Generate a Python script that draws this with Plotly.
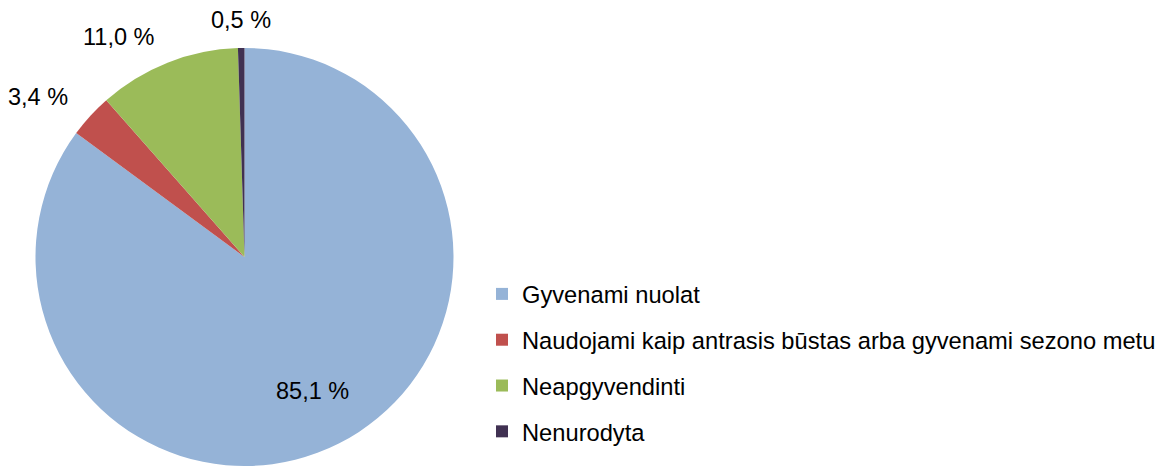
import math
import plotly.graph_objects as go

labels = ["Gyvenami nuolat",
          "Naudojami kaip antrasis būstas arba gyvenami sezono metu",
          "Neapgyvendinti",
          "Nenurodyta"]
values = [85.1, 3.4, 11.0, 0.5]
colors = ["#95B3D7", "#C0504D", "#9BBB59", "#403152"]
texts = [f"{v:.1f} %".replace(".", ",") for v in values]

W, H = 1163, 466
FONT = "Liberation Sans, Arial, sans-serif"

# pie geometry (pixels)
cx, cy, R = 244.5, 257, 209
dom_x = [(cx - R) / W, (cx + R) / W]
dom_y = [max(0.0, 1 - (cy + R) / H), 1 - (cy - R) / H]

fig = go.Figure()
fig.add_trace(go.Pie(
    values=values, labels=labels, sort=False, direction="clockwise", rotation=0,
    marker=dict(colors=colors, line=dict(width=0)),
    textinfo="none",
    showlegend=False, domain=dict(x=dom_x, y=dom_y),
))

# data labels placed along each slice's mid-angle
total = sum(values)
cum = 0.0
annotations = []
for i, v in enumerate(values):
    mid = (cum + v / 2) / total
    cum += v
    th = 2 * math.pi * mid
    s, c = math.sin(th), math.cos(th)
    if i == 0:
        r = 0.72 * R
        xa = "center"
    else:
        r = 237
        xa = "center" if abs(s) < 0.2 else ("right" if s < 0 else "left")
    px = cx + s * r
    py = cy - c * r
    annotations.append(dict(
        x=px / W, y=1 - py / H, xref="paper", yref="paper",
        text=texts[i], showarrow=False, xanchor=xa, yanchor="middle",
        font=dict(size=23.5, color="black", family=FONT),
    ))

# legend entries
for lab, col in zip(labels, colors):
    fig.add_trace(go.Scatter(
        x=[None], y=[None], mode="markers", name=lab, legendgroup=lab,
        marker=dict(symbol="square", size=12, color=col),
    ))

fig.update_layout(
    width=W, height=H,
    margin=dict(l=0, r=0, t=0, b=0),
    paper_bgcolor="white", plot_bgcolor="white",
    xaxis=dict(visible=False), yaxis=dict(visible=False),
    annotations=annotations,
    legend=dict(
        x=482 / W, y=1 - 272 / H, xanchor="left", yanchor="top",
        font=dict(size=23.7, color="black", family=FONT),
        tracegroupgap=12, bgcolor="rgba(0,0,0,0)",
        itemsizing="trace",
    ),
)

fig.write_html(
    "out.html",
    config={"responsive": False, "displayModeBar": False},
    post_script="document.body.style.margin='0';document.body.style.overflow='hidden';",
)
